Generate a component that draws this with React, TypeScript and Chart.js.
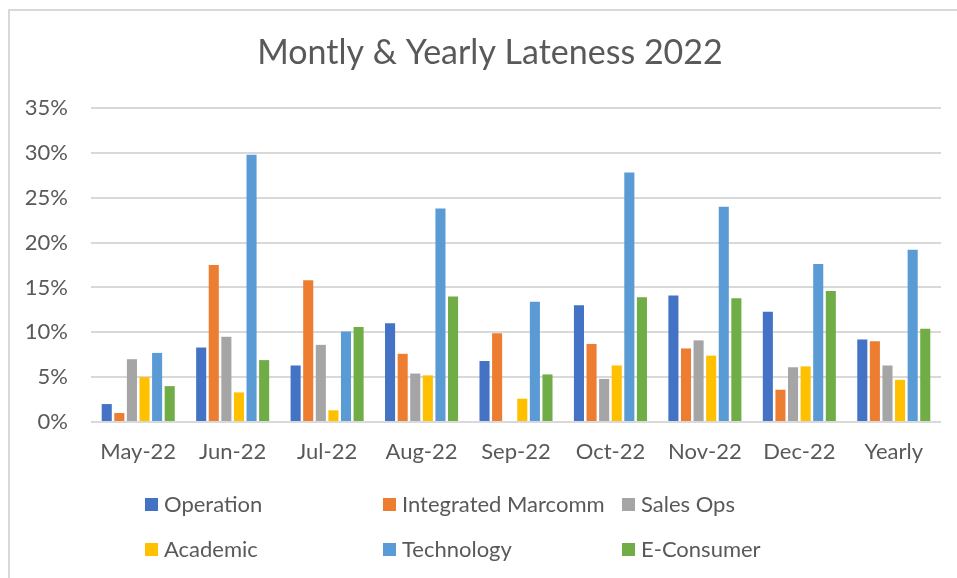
import React, { useEffect, useRef } from "react";
import { Chart, registerables } from "chart.js";

Chart.register(...registerables);

const TITLE = "Montly & Yearly Lateness 2022";
const categories = ["May-22", "Jun-22", "Jul-22", "Aug-22", "Sep-22", "Oct-22", "Nov-22", "Dec-22", "Yearly"];

const operation = [2.0, 8.3, 6.3, 11.0, 6.8, 13.0, 14.1, 12.3, 9.2];
const integratedMarcomm = [1.0, 17.5, 15.8, 7.6, 9.9, 8.7, 8.2, 3.6, 9.0];
const salesOps = [7.0, 9.5, 8.6, 5.4, 0, 4.8, 9.1, 6.1, 6.3];
const academic = [5.0, 3.3, 1.3, 5.2, 2.6, 6.3, 7.4, 6.2, 4.7];
const technology = [7.7, 29.8, 10.1, 23.8, 13.4, 27.8, 24.0, 17.6, 19.2];
const eConsumer = [4.0, 6.9, 10.6, 14.0, 5.3, 13.9, 13.8, 14.6, 10.4];

const seriesNames = ["Operation", "Integrated Marcomm", "Sales Ops", "Academic", "Technology", "E-Consumer"];
const seriesValues = [operation, integratedMarcomm, salesOps, academic, technology, eConsumer];
const seriesColors = ["#4472C4", "#ED7D31", "#A5A5A5", "#FFC000", "#5B9BD5", "#70AD47"];

const yMax = 35;
const yStep = 5;

const FONT = "Lato, 'Open Sans', sans-serif";
const TEXT_COLOR = "#595959";
const GRID_COLOR = "#D9D9D9";

// title and legend layout
const titlePos = { x: 490, y: 53 };
const legendColX = [145, 383, 622];
const legendRowY = [505, 550];

const framePlugin = {
  id: "frame",
  beforeDraw(chart: any) {
    const ctx = chart.ctx;
    ctx.save();
    ctx.fillStyle = "#FFFFFF";
    ctx.fillRect(0, 0, chart.width, chart.height);
    ctx.strokeStyle = GRID_COLOR;
    ctx.lineWidth = 2;
    ctx.strokeRect(9, 10, chart.width + 20, chart.height + 20);
    ctx.restore();
  },
};

const titleLegendPlugin = {
  id: "titleLegend",
  afterDraw(chart: any) {
    const ctx = chart.ctx;
    ctx.save();
    ctx.fillStyle = TEXT_COLOR;
    ctx.font = `34px ${FONT}`;
    ctx.textAlign = "center";
    ctx.textBaseline = "middle";
    ctx.fillText(TITLE, titlePos.x, titlePos.y);

    ctx.font = `22px ${FONT}`;
    ctx.textAlign = "left";
    seriesNames.forEach((name, i) => {
      const col = i % 3;
      const row = Math.floor(i / 3);
      const x = legendColX[col];
      const y = legendRowY[row];
      ctx.fillStyle = seriesColors[i];
      ctx.fillRect(x, y - 7, 13, 13);
      ctx.fillStyle = TEXT_COLOR;
      ctx.fillText(name, x + 19, y);
    });
    ctx.restore();
  },
};

export default function App() {
  const ref = useRef<HTMLCanvasElement>(null);

  useEffect(() => {
    if (!ref.current) return;
    const chart = new Chart(ref.current, {
      type: "bar",
      data: {
        labels: categories,
        datasets: seriesNames.map((name, i) => ({
          label: name,
          data: seriesValues[i],
          backgroundColor: seriesColors[i],
          borderWidth: 0,
          categoryPercentage: 0.8,
          barPercentage: 0.8,
        })),
      },
      options: {
        animation: false,
        responsive: false,
        devicePixelRatio: 1,
        layout: { padding: { left: 0, right: 16, top: 108, bottom: 96 } },
        plugins: {
          legend: { display: false },
          tooltip: { enabled: false },
          title: { display: false },
        },
        scales: {
          x: {
            grid: { display: false, drawTicks: false },
            border: { display: false },
            ticks: {
              color: TEXT_COLOR,
              font: { family: FONT, size: 22 },
              padding: 17,
              maxRotation: 0,
            },
            afterFit(scale: any) {
              scale.height = 60;
            },
          },
          y: {
            min: 0,
            max: yMax,
            grid: { color: GRID_COLOR, lineWidth: 2, drawTicks: false },
            border: { display: false },
            ticks: {
              stepSize: yStep,
              color: TEXT_COLOR,
              font: { family: FONT, size: 22 },
              padding: 23,
              callback: (v: any) => `${v}%`,
            },
            afterFit(scale: any) {
              scale.width = 91;
            },
          },
        },
      },
      plugins: [framePlugin, titleLegendPlugin],
    });
    return () => chart.destroy();
  }, []);

  return (
    <div style={{ position: "absolute", left: 0, top: 0, width: 957, height: 578, overflow: "hidden" }}>
      <canvas ref={ref} width={957} height={578} style={{ width: 957, height: 578, display: "block" }} />
    </div>
  );
}
